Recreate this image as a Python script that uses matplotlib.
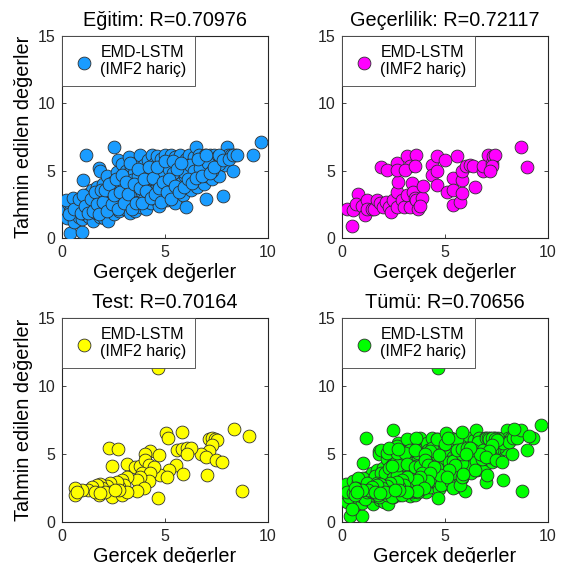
import numpy as np
import matplotlib
matplotlib.use('Agg')
import matplotlib.pyplot as plt

plt.rcParams.update({
    'font.family': ['Liberation Sans', 'DejaVu Sans'],
    'axes.linewidth': 0.8,
    'xtick.direction': 'in',
    'ytick.direction': 'in',
    'xtick.top': True,
    'ytick.right': True,
})

# training set (actual, predicted)
train_x = [0.1, 0.23, 0.3, 0.39, 0.45, 0.5, 0.6, 0.65, 0.7, 0.8, 0.85, 0.9, 0.96, 1.0, 1.0, 0.95,
           1.05, 1.1, 1.17, 1.2, 1.25, 1.3, 1.35, 1.4, 1.45, 1.5, 1.55, 1.6, 1.65, 1.7, 1.75, 1.8, 1.82,
           1.85, 1.9, 1.95, 1.95, 2.0,
           2.05, 2.1, 2.15, 2.2, 2.25, 2.3, 2.35, 2.4, 2.45, 2.5, 2.5, 2.55, 2.6, 2.65, 2.7, 2.7, 2.75,
           2.8, 2.85, 2.9, 2.9, 2.95, 3.0,
           3.05, 3.1, 3.1, 3.15, 3.2, 3.25, 3.3, 3.3, 3.35, 3.4, 3.45, 3.5, 3.5, 3.55, 3.6, 3.6, 3.65,
           3.7, 3.75, 3.8, 3.8, 3.85, 3.9, 3.95, 4.0, 4.0,
           4.05, 4.1, 4.1, 4.15, 4.2, 4.25, 4.3, 4.3, 4.35, 4.4, 4.45, 4.5, 4.5, 4.55, 4.6, 4.6, 4.65,
           4.7, 4.75, 4.8, 4.8, 4.85, 4.9, 4.95, 5.0, 5.0,
           5.05, 5.1, 5.1, 5.15, 5.2, 5.25, 5.3, 5.3, 5.35, 5.4, 5.45, 5.5, 5.5, 5.55, 5.6, 5.65, 5.7,
           5.75, 5.8, 5.85, 5.9, 5.95, 6.0, 6.0,
           6.05, 6.1, 6.15, 6.2, 6.25, 6.3, 6.35, 6.4, 6.45, 6.5, 6.5, 6.55, 6.6, 6.65, 6.7, 6.75, 6.8,
           6.85, 6.9, 6.95, 7.0, 7.0,
           7.05, 7.1, 7.15, 7.2, 7.3, 7.35, 7.4, 7.5, 7.55, 7.6, 7.65, 7.8, 7.8, 7.9, 8.0, 8.05,
           8.2, 8.28, 8.4, 9.3, 9.66,
           0.4, 0.75, 1.15, 1.3, 1.6, 1.9, 2.2, 2.45, 2.6, 2.85, 3.2, 3.4, 3.7, 3.9, 4.2, 4.4, 4.7,
           4.9, 5.2, 5.4, 5.7, 5.9, 6.2, 6.4, 6.7, 7.1, 7.3, 7.6,
           0.2, 0.35, 0.55, 0.6, 0.8, 0.9, 1.0, 1.1, 1.25, 1.4, 1.5, 1.6, 1.7, 1.8, 1.9,
           2.0, 2.1, 2.2, 2.3, 2.4, 2.5, 2.6, 2.7, 2.8, 2.9, 3.0, 3.1, 3.2, 3.3, 3.4, 3.5, 3.6,
           3.7, 3.8, 3.9, 4.0,
           4.1, 4.2, 4.3, 4.4, 4.5, 4.6, 4.7, 4.8, 4.9, 5.0, 5.1, 5.2, 5.3, 5.4, 5.5, 5.6, 5.7,
           5.8, 5.9,
           6.1, 6.3, 6.5, 6.6, 6.8, 7.0, 7.2, 7.4, 7.6, 7.8, 8.1, 8.3, 8.5]
train_y = [2.2, 1.5, 2.6, 0.4, 1.9, 2.3, 1.2, 2.8, 2.0, 1.6, 2.5, 3.0, 0.47, 4.3, 2.2, 1.4,
           2.9, 1.8, 6.2, 2.4, 3.3, 1.6, 2.7, 2.1, 3.6, 1.3, 2.5, 3.0, 1.9, 3.8, 2.3, 5.2, 5.0,
           1.6, 2.8, 3.4, 2.1, 4.0,
           1.5, 2.6, 3.2, 4.6, 1.3, 2.2, 3.7, 2.9, 4.2, 6.8, 1.8, 3.4, 2.4, 4.9, 5.8, 3.0, 2.0,
           4.4, 3.7, 5.5, 2.6, 3.2, 4.0,
           2.2, 5.0, 3.5, 2.8, 4.5, 6.0, 3.0, 1.9, 5.3, 4.1, 2.5, 3.6, 4.8, 2.0, 5.6, 3.2, 4.3,
           2.7, 3.9, 6.2, 5.0, 2.3, 3.4, 4.6, 5.4, 2.9,
           3.8, 4.9, 2.2, 5.8, 3.2, 4.3, 2.6, 5.3, 6.2, 3.7, 4.8, 2.9, 5.6, 4.1, 6.1, 3.4, 5.1,
           2.4, 4.5, 5.9, 3.9, 3.0, 5.4, 4.7, 3.5, 6.2,
           4.2, 5.0, 2.8, 5.7, 3.8, 4.6, 6.2, 3.3, 5.3, 4.0, 5.0, 2.6, 6.0, 4.5, 3.6, 5.5, 4.9,
           6.2, 4.1, 3.2, 5.3, 4.6, 2.3, 5.9,
           4.0, 5.1, 6.2, 4.5, 3.6, 5.6, 4.9, 6.0, 4.2, 6.8, 5.3, 3.8, 4.7, 6.2, 5.5, 4.3, 5.9,
           5.0, 4.0, 6.2, 2.9, 5.4,
           4.6, 6.0, 5.1, 6.2, 4.4, 5.6, 6.2, 5.2, 6.0, 4.6, 5.8, 3.1, 6.2, 5.4, 6.8, 6.2,
           6.2, 5.0, 6.2, 6.2, 7.1,
           2.0, 2.3, 2.6, 3.0, 2.7, 3.1, 3.4, 3.0, 3.8, 4.1, 3.9, 4.3, 4.6, 4.0, 4.9, 4.4, 4.2,
           4.9, 5.1, 4.8, 5.2, 4.9, 5.4, 5.0, 5.2, 5.6, 5.0, 5.5,
           2.8, 1.8, 3.0, 2.2, 2.9, 1.9, 3.2, 2.4, 1.9, 2.9, 2.0, 3.4, 2.5, 1.8, 3.6,
           2.7, 3.6, 2.0, 4.0, 2.5, 3.2, 4.4, 2.2, 3.4, 4.7, 2.6, 4.2, 3.3, 5.6, 2.2, 4.0, 2.6,
           5.1, 3.7, 2.6, 4.4,
           3.5, 5.3, 3.0, 4.5, 3.3, 5.3, 3.7, 2.7, 4.2, 5.7, 3.4, 4.4, 2.9, 5.7, 3.9, 5.1, 3.4,
           5.6, 3.8,
           4.4, 4.1, 4.5, 5.9, 4.6, 6.2, 4.8, 5.3, 6.2, 5.8, 5.9, 6.2, 6.2]

# validation set
val_x = [0.26, 0.49, 0.55, 0.79, 0.7, 0.95, 1.1, 1.2, 1.2, 1.45, 1.55, 1.68, 1.85, 2.0, 2.15, 2.3,
         2.4, 2.49, 2.65, 2.65, 2.73, 2.69, 2.9, 3.0, 3.14, 3.14, 3.3, 3.3, 3.38, 3.46, 3.55, 3.62,
         3.62, 3.7, 3.87, 3.95, 3.8,
         1.88, 2.17, 2.65, 3.06, 3.54,
         4.35, 4.35, 4.6, 4.6, 4.6, 5.0, 5.57, 5.08, 5.4, 5.4, 5.4, 5.73, 5.81, 5.81, 5.81, 6.05,
         6.21, 6.38, 6.46, 6.86, 6.86, 7.1, 7.27, 7.35, 7.43, 7.27, 7.2, 8.72, 9.0]
val_y = [2.2, 0.92, 2.1, 3.26, 2.5, 2.35, 1.7, 2.84, 2.2, 2.2, 2.2, 2.84, 2.6, 2.3, 2.7, 2.3,
         1.95, 2.84, 2.3, 3.46, 4.2, 5.57, 2.84, 2.3, 3.21, 6.12, 2.3, 5.32, 4.08, 3.46, 3.0, 2.84,
         6.19, 2.2, 2.96, 3.88, 2.4,
         5.27, 5.07, 5.07, 5.07, 5.32,
         5.45, 4.7, 6.07, 4.95, 3.96, 5.77, 6.07, 3.46, 4.45, 3.58, 2.46, 2.7, 3.33, 4.33, 5.02, 5.32,
         5.45, 5.32, 3.83, 4.95, 5.32, 6.19, 5.57, 6.07, 6.19, 5.32, 5.0, 6.77, 5.27]

# test set
test_x = [4.65, 5.07, 5.14, 5.84, 8.36, 9.09, 7.14, 7.3, 7.45, 7.54, 7.3, 7.14, 6.73, 6.98, 7.46,
          7.79, 7.06, 8.76, 5.59, 5.84, 6.08, 6.24, 6.05, 5.51, 5.19, 4.78, 5.89, 5.1, 4.65,
          2.29, 2.7, 4.29, 4.05, 4.7, 2.44, 3.15, 3.56, 3.8, 4.05, 4.2, 4.46, 3.88, 4.29, 4.2, 3.8,
          3.64, 3.97, 3.64, 3.15, 2.9, 2.99, 2.75, 2.67, 2.34, 2.18, 1.85, 1.93, 1.69, 1.45, 1.28,
          0.96, 0.63, 0.63, 0.72, 1.77, 2.34, 2.42, 2.9, 3.15, 2.75, 2.1, 1.61, 1.85, 2.59]
test_y = [11.3, 6.52, 6.15, 6.64, 6.84, 6.35, 6.1, 6.15, 6.1, 6.0, 5.66, 5.25, 4.98, 4.8, 4.56,
          4.44, 3.46, 2.3, 5.3, 5.34, 5.42, 5.42, 4.98, 4.19, 3.82, 3.46, 3.53, 3.3, 1.74,
          5.42, 5.34, 5.25, 4.98, 4.93, 4.15, 4.24, 4.02, 4.12, 4.56, 4.19, 4.07, 3.58, 3.58, 3.04,
          3.33, 3.09, 2.48, 2.3, 3.33, 3.09, 2.72, 2.6, 2.97, 2.84, 2.65, 2.79, 2.48, 2.72, 2.6, 2.35,
          2.35, 2.48, 1.99, 2.23, 1.99, 2.23, 1.86, 1.99, 2.23, 2.35, 2.23, 2.23, 2.1, 2.35]

all_x = train_x + val_x + test_x
all_y = train_y + val_y + test_y

titles = ['Eğitim: R=0.70976', 'Geçerlilik: R=0.72117', 'Test: R=0.70164', 'Tümü: R=0.70656']
colors = ['#1a9cff', '#ff00ff', '#ffff00', '#00ff00']
series = [(train_x, train_y), (val_x, val_y), (test_x, test_y), (all_x, all_y)]

fig = plt.figure(figsize=(5.7, 5.63), dpi=100)
positions = [
    [0.109, 0.577, 0.361, 0.359],
    [0.600, 0.577, 0.361, 0.359],
    [0.109, 0.073, 0.361, 0.362],
    [0.600, 0.073, 0.361, 0.362],
]

for i, (pos, (xs, ys)) in enumerate(zip(positions, series)):
    ax = fig.add_axes(pos)
    ax.scatter(xs, ys, s=85, c=colors[i], edgecolors='#303030', linewidths=0.6,
               label='EMD-LSTM\n(IMF2 hariç)', zorder=3)
    ax.set_xlim(0, 10)
    ax.set_ylim(0, 15)
    ax.set_xticks([0, 5, 10])
    ax.set_yticks([0, 5, 10, 15])
    ax.tick_params(labelsize=11.5, length=3, width=0.6, colors='#262626', pad=5)
    for sp in ax.spines.values():
        sp.set_color('#262626')
    ax.set_title(titles[i], fontsize=14.3, pad=7)
    ax.set_xlabel('Gerçek değerler', fontsize=14.3, labelpad=2)
    if i % 2 == 0:
        ax.set_ylabel('Tahmin edilen değerler', fontsize=14.3, labelpad=3)
    leg = ax.legend(loc='upper left', borderaxespad=0, fontsize=11.5, fancybox=False,
                    framealpha=1, edgecolor='#404040', handletextpad=0.25,
                    borderpad=0.55, handlelength=1.6, markerscale=1.0)
    leg.get_frame().set_linewidth(0.6)

fig.savefig('out.png', dpi=100)
